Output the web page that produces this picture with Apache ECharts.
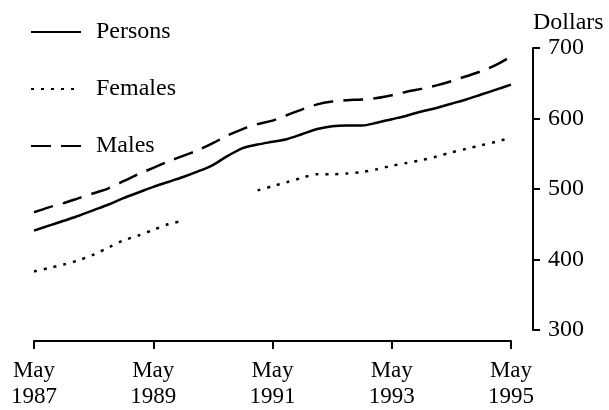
<!DOCTYPE html>
<html>
<head>
<meta charset="utf-8">
<script src="https://cdn.jsdelivr.net/npm/echarts@6/dist/echarts.min.js"></script>
<style>
  html, body { margin: 0; padding: 0; background: #fff; }
  #chart { width: 609px; height: 410px; }
</style>
</head>
<body>
<div id="chart"></div>
<script>
// quarterly points, May 1987 .. May 1995
const quarters = [
    'May 1987', 'Aug 1987', 'Nov 1987', 'Feb 1988', 'May 1988', 'Aug 1988', 'Nov 1988', 'Feb 1989',
    'May 1989', 'Aug 1989', 'Nov 1989', 'Feb 1990', 'May 1990', 'Aug 1990', 'Nov 1990', 'Feb 1991',
    'May 1991', 'Aug 1991', 'Nov 1991', 'Feb 1992', 'May 1992', 'Aug 1992', 'Nov 1992', 'Feb 1993',
    'May 1993', 'Aug 1993', 'Nov 1993', 'Feb 1994', 'May 1994', 'Aug 1994', 'Nov 1994', 'Feb 1995',
    'May 1995'
];

const persons = [
    441, 448, 455, 462, 470, 478, 487, 495,
    503, 510, 517, 525, 534, 547, 558, 563,
    567, 571, 578, 585, 589, 590, 590, 594,
    599, 604, 610, 615, 621, 627, 634, 641,
    648
];

const females = [
    383, 388, 393, 399, 407, 417, 427, 434,
    442, 450, 455, null, null, null, null, 498,
    504, 510, 516, 521, 521, 522, 524, 528,
    533, 537, 541, 546, 552, 557, 562, 567,
    573
];

const males = [
    467, 474, 480, 487, 494, 501, 511, 521,
    530, 539, 547, 555, 565, 576, 585, 592,
    597, 605, 613, 620, 624, 626, 627, 629,
    633, 638, 642, 647, 653, 660, 667, 676,
    688
];

const FONT = 'Liberation Serif';

const chart = echarts.init(document.getElementById('chart'), null, { renderer: 'canvas' });

const lineSeries = (name, data, type) => ({
    name: name,
    type: 'line',
    data: data,
    symbol: 'none',
    smooth: 0.3,
    connectNulls: false,
    lineStyle: { color: '#000', width: 2.5, type: type },
    itemStyle: { color: '#000' }
});

const option = {
    backgroundColor: '#ffffff',
    animation: false,
    legend: {
        orient: 'vertical',
        left: 30,
        top: 20,
        padding: 0,
        itemWidth: 50,
        itemHeight: 14,
        itemGap: 33,
        data: ['Persons', 'Females', 'Males'],
        itemStyle: { opacity: 0 },
        textStyle: {
            fontFamily: FONT,
            fontSize: 24,
            color: '#000',
            padding: [0, 0, 0, 10]
        }
    },
    grid: {
        left: 34,
        right: 98,
        top: 48,
        bottom: 78
    },
    xAxis: {
        type: 'category',
        data: quarters,
        boundaryGap: false,
        offset: 11,
        axisLine: { lineStyle: { color: '#000', width: 2 } },
        axisTick: { interval: 7, length: 8, lineStyle: { color: '#000', width: 2 } },
        axisLabel: {
            interval: 7,
            margin: 17,
            fontFamily: FONT,
            fontSize: 23,
            lineHeight: 26,
            color: '#000',
            formatter: v => v.replace(' ', '\n')
        },
        splitLine: { show: false }
    },
    yAxis: {
        type: 'value',
        position: 'right',
        offset: 22,
        min: 300,
        max: 700,
        interval: 100,
        name: 'Dollars',
        nameLocation: 'end',
        nameGap: 13,
        nameTextStyle: {
            fontFamily: FONT,
            fontSize: 24,
            color: '#000',
            align: 'left',
            verticalAlign: 'bottom'
        },
        axisLine: { show: true, lineStyle: { color: '#000', width: 2 } },
        axisTick: { show: true, length: 7, lineStyle: { color: '#000', width: 2 } },
        axisLabel: {
            margin: 15,
            fontFamily: FONT,
            fontSize: 24,
            color: '#000'
        },
        splitLine: { show: false }
    },
    series: [
        lineSeries('Persons', persons, 'solid'),
        lineSeries('Females', females, [3, 7]),
        lineSeries('Males', males, [20, 10])
    ]
};

chart.setOption(option);
</script>
</body>
</html>
